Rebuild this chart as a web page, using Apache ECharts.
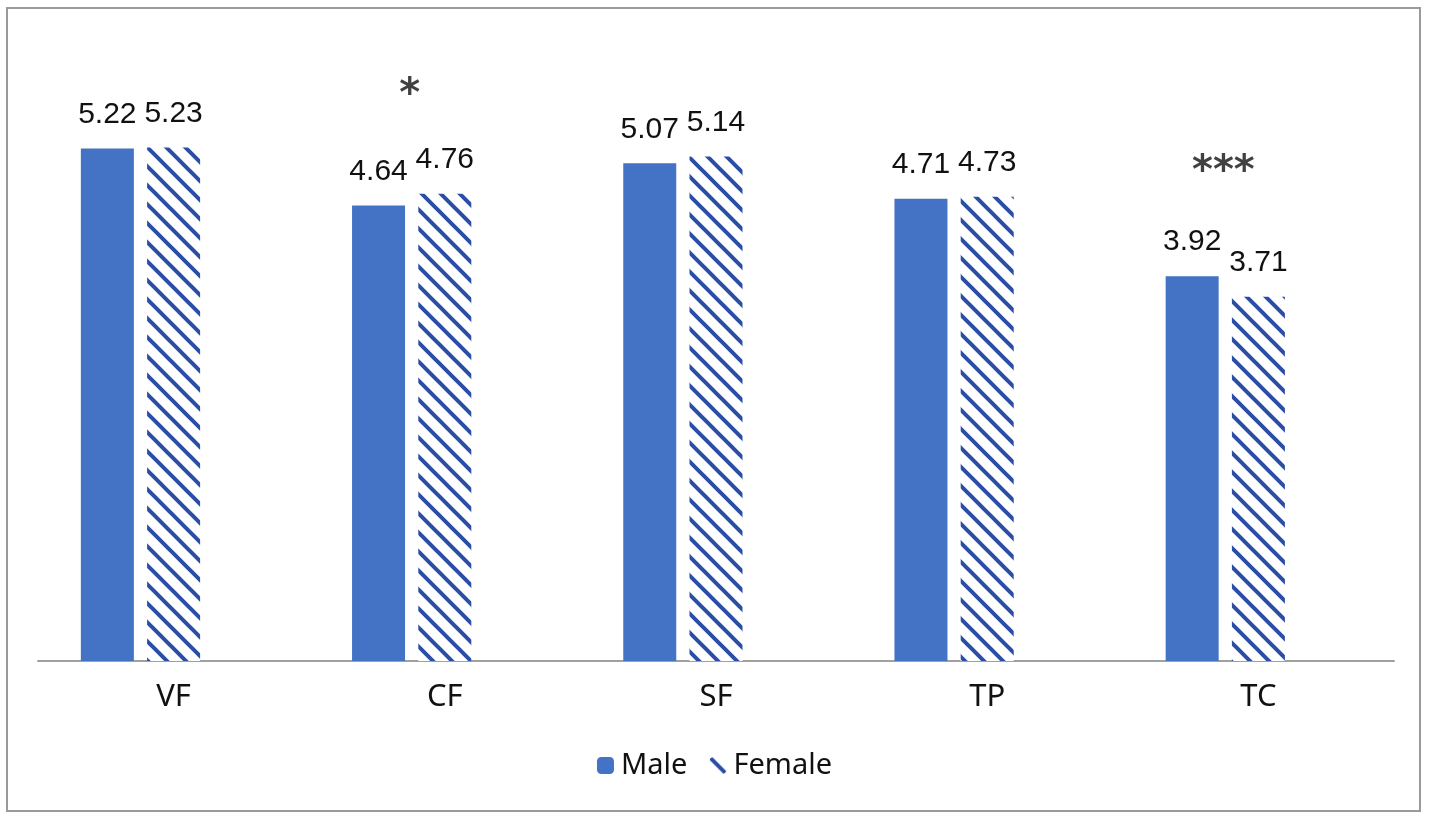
<!DOCTYPE html>
<html>
<head>
<meta charset="utf-8"/>
<title>Male vs Female</title>
<script src="https://cdn.jsdelivr.net/npm/echarts@6/dist/echarts.min.js"></script>
<style>
    html, body { margin: 0; padding: 0; background: #fff; }
    #frame { position: absolute; left: 6px; top: 7px; width: 1411px; height: 801px; border: 2px solid #9a9a9a; }
    #container { position: absolute; left: 0; top: 0; width: 1429px; height: 820px; }
</style>
</head>
<body>
<div id="frame"></div>
<div id="container"></div>
<script type="text/javascript">
    // 数据
    var categories = ['VF', 'CF', 'SF', 'TP', 'TC'];
    var maleValues = [5.22, 4.64, 5.07, 4.71, 3.92];
    var femaleValues = [5.23, 4.76, 5.14, 4.73, 3.71];
    // 显著性标记及其高度
    var sigMarks = ['', '*', '', '', '***'];
    var sigLevels = [null, 5.76, null, null, 4.98];

    // 女性柱子的斜线填充
    function makeHatch() {
        var s = 19;
        var c = document.createElement('canvas');
        c.width = s;
        c.height = s;
        var ctx = c.getContext('2d');
        ctx.fillStyle = '#ffffff';
        ctx.fillRect(0, 0, s, s);
        ctx.strokeStyle = '#2a4ea6';
        ctx.lineWidth = 4;
        ctx.lineCap = 'round';
        for (var k = -1; k <= 1; k++) {
            ctx.beginPath();
            ctx.moveTo(k * s - 2, -2);
            ctx.lineTo(k * s + s + 2, s + 2);
            ctx.stroke();
        }
        return c;
    }

    var starData = [];
    for (var i = 0; i < categories.length; i++) {
        if (sigMarks[i] !== '') {
            starData.push({ value: [categories[i], sigLevels[i]], mark: sigMarks[i] });
        }
    }

    var valueLabel = {
        show: true,
        position: 'top',
        distance: 19,
        color: '#111',
        fontFamily: 'Liberation Sans',
        fontSize: 30
    };

    var myChart = echarts.init(document.getElementById('container'));
    var option = {
        animation: false,
        grid: {
            left: 38,
            right: 35,
            top: 72,
            bottom: 159
        },
        legend: {
            data: ['Male', 'Female'],
            left: 'center',
            top: 746,
            itemWidth: 17,
            itemHeight: 17,
            itemGap: 22,
            textStyle: {
                fontFamily: 'Noto Sans',
                fontSize: 29,
                color: '#111',
                padding: [0, 0, 0, 2]
            }
        },
        xAxis: {
            type: 'category',
            data: categories,
            axisLine: { lineStyle: { color: '#a0a0a0', width: 2 } },
            axisTick: { show: false },
            axisLabel: {
                margin: 21,
                color: '#111',
                fontFamily: 'Noto Sans',
                fontSize: 31
            }
        },
        yAxis: {
            type: 'value',
            min: 0,
            max: 6,
            show: false,
            splitLine: { show: false }
        },
        series: [
            {
                name: 'Male',
                type: 'bar',
                barWidth: 53,
                barGap: '25%',
                data: maleValues,
                itemStyle: { color: '#4472c4' },
                label: valueLabel
            },
            {
                name: 'Female',
                type: 'bar',
                barWidth: 53,
                barGap: '25%',
                data: femaleValues,
                itemStyle: { color: { image: makeHatch(), repeat: 'repeat' } },
                label: valueLabel
            },
            {
                // 占位的空系列（原图中柱组偏左）
                name: '',
                type: 'bar',
                barWidth: 53,
                barGap: '25%',
                silent: true,
                data: [0, 0, 0, 0, 0],
                itemStyle: { color: 'rgba(0,0,0,0)' }
            },
            {
                name: 'sig',
                type: 'scatter',
                symbolSize: 0,
                silent: true,
                data: starData,
                label: {
                    show: true,
                    position: 'inside',
                    offset: [-35, 0],
                    color: '#111',
                    fontFamily: 'DejaVu Sans',
                    fontWeight: 'bold',
                    fontSize: 40,
                    formatter: function (p) { return p.data.mark; }
                }
            }
        ]
    };
    myChart.setOption(option);
</script>
</body>
</html>
